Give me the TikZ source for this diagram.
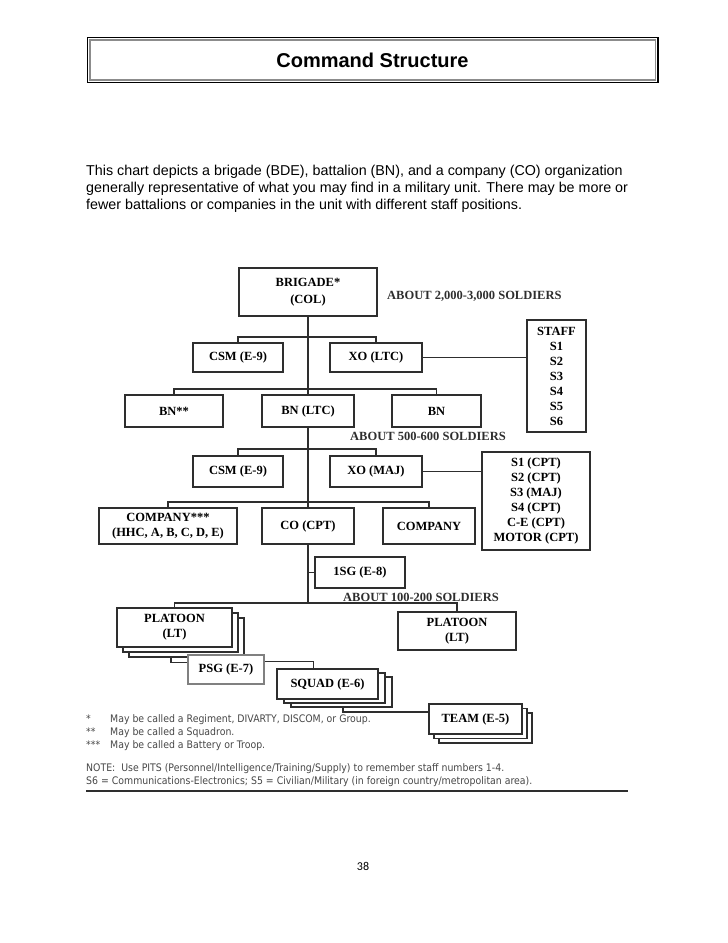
\documentclass[tikz,border=0pt]{standalone}
\usepackage{fontspec}
\setmainfont{Liberation Sans}
\newfontfamily\chartfont{Liberation Serif}
\newfontfamily\notefont[FakeStretch=0.9]{DejaVu Sans}
\newfontfamily\pagefont{Carlito}
\usetikzlibrary{shadows}
\definecolor{boxline}{gray}{0.18}
\definecolor{psgline}{gray}{0.5}
\definecolor{notegray}{gray}{0.28}
\definecolor{framegray}{gray}{0.55}

\begin{document}
\begin{tikzpicture}[x=1pt,y=-1pt,
  box/.style={draw=boxline,line width=1.4pt,fill=white,inner sep=0pt,align=center,
    font=\chartfont\bfseries\fontsize{12.5}{15}\selectfont},
  link/.style={draw=boxline,line width=1.8pt},
  soldiers/.style={anchor=west,inner sep=0pt,font=\chartfont\bfseries\fontsize{12.5}{15}\selectfont,text=boxline},
  pile/.style 2 args={copy shadow={shadow xshift=2*#1pt,shadow yshift=-2*#2pt},
    copy shadow={shadow xshift=#1pt,shadow yshift=-#2pt}}]
\useasboundingbox (0,0) rectangle (728,943);
\draw[line width=1.3pt] (87.5,37.5) rectangle (658,82.5);
\draw[framegray,line width=1.4pt] (90,40) rectangle (655.5,80);
\node[font=\bfseries\fontsize{20}{24}\selectfont] (title) at (372.5,60) {Command Structure};
\node[anchor=north west,inner sep=0pt,align=left,font=\fontsize{14.3}{17}\selectfont] (intro) at (86,165)
  {This chart depicts a brigade (BDE), battalion (BN), and a company (CO) organization\\
   generally representative of what you may find in a military unit. There may be more or\\
   fewer battalions or companies in the unit with different staff positions.};
\node[box,minimum width=138,minimum height=48] (brigade) at (308,292) {BRIGADE*\\[2pt](COL)};
\node[soldiers] (lblA) at (387,296) {ABOUT 2,000-3,000 SOLDIERS};
\node[box,minimum width=90,minimum height=29] (csmA) at (238,357.5) {CSM (E-9)};
\node[box,minimum width=92,minimum height=29] (xoA) at (376,357.5) {XO (LTC)};
\node[box,minimum width=59,minimum height=112] (staff) at (556.5,376) {STAFF\\S1\\S2\\S3\\S4\\S5\\S6};
\node[box,minimum width=98,minimum height=32] (bnA) at (174,411) {BN**};
\node[box,minimum width=92,minimum height=32] (bnB) at (308,411) {BN (LTC)};
\node[box,minimum width=89,minimum height=32] (bnC) at (436.5,411) {BN};
\node[soldiers] (lblB) at (350,436) {ABOUT 500-600 SOLDIERS};
\node[box,minimum width=90,minimum height=31] (csmB) at (238,471.5) {CSM (E-9)};
\node[box,minimum width=92,minimum height=31] (xoB) at (376,471.5) {XO (MAJ)};
\node[box,minimum width=108,minimum height=98] (sbox) at (536,501)
  {S1 (CPT)\\S2 (CPT)\\S3 (MAJ)\\S4 (CPT)\\C-E (CPT)\\MOTOR (CPT)};
\node[box,minimum width=138,minimum height=36] (coA) at (168,526) {COMPANY***\\(HHC, A, B, C, D, E)};
\node[box,minimum width=92,minimum height=36] (coB) at (308,526) {CO (CPT)};
\node[box,minimum width=92,minimum height=36] (coC) at (429,526) {COMPANY};
\node[box,minimum width=90,minimum height=31] (sgt) at (360,572.5) {1SG (E-8)};
\node[soldiers] (lblC) at (343,597) {ABOUT 100-200 SOLDIERS};
\node[box,pile={6}{5},minimum width=115,minimum height=39] (plA) at (174.5,627.5) {PLATOON\\(LT)};
\node[box,minimum width=118,minimum height=38] (plB) at (457,631) {PLATOON\\(LT)};
\node[box,draw=psgline,minimum width=76,minimum height=29] (psg) at (226,669.5) {PSG (E-7)};
\node[box,pile={7}{4},minimum width=101,minimum height=30] (sqd) at (327.5,684) {SQUAD (E-6)};
\node[box,pile={5}{4.5},minimum width=93,minimum height=30] (team) at (475.5,719) {TEAM (E-5)};
\coordinate (plbar) at (308,603);
\draw[link] (brigade.south) -- (bnB.north);
\draw[link] (csmA.north) -- ++(0,-5) -| (xoA.north);
\draw[link] (xoA.east) -- (xoA.east -| staff.west);
\draw[link] (bnA.north) -- ++(0,-5) -| (bnC.north);
\draw[link] (bnB.south) -- (coB.north);
\draw[link] (csmB.north) -- ++(0,-6) -| (xoB.north);
\draw[link] (xoB.east) -- (xoB.east -| sbox.west);
\draw[link] (coA.north) -- ++(0,-5) -| (coC.north);
\draw[link] (coB.south) -- (plbar);
\draw[link] (coB.south |- sgt.west) -- (sgt.west);
\draw[link] (plA.north) |- (plbar) -| (plB.north);
\draw[link] (plA.south west) ++(55,10) |- ([yshift=7pt]psg.west);
\draw[link] ([yshift=8pt]psg.east) -| ([xshift=-14pt]sqd.north);
\draw[link] (sqd.south) ++(15.5,8) |- ([yshift=7pt]team.west);
\node[anchor=north west,inner sep=0pt,text=notegray,font=\notefont\fontsize{10.4}{13}\selectfont] (foot) at (86,713)
  {\begin{tabular}{@{}p{24pt}@{}l@{}}
   {*} & May be called a Regiment, DIVARTY, DISCOM, or Group.\\
   {**} & May be called a Squadron.\\
   {***} & May be called a Battery or Troop.
   \end{tabular}};
\node[anchor=north west,inner sep=0pt,align=left,text=notegray,font=\notefont\fontsize{10.4}{13}\selectfont] (note) at (86,763)
  {NOTE:\ \ Use PITS (Personnel/Intelligence/Training/Supply) to remember staff numbers 1-4.\\
   S6 = Communications-Electronics; S5 = Civilian/Military (in foreign country/metropolitan area).};
\draw[boxline,line width=2pt] (note.south west) ++(0,5) -- ++(542,0);
\node[font=\pagefont\fontsize{12}{14}\selectfont] (page) at (363,866) {38};
\end{tikzpicture}
\end{document}
